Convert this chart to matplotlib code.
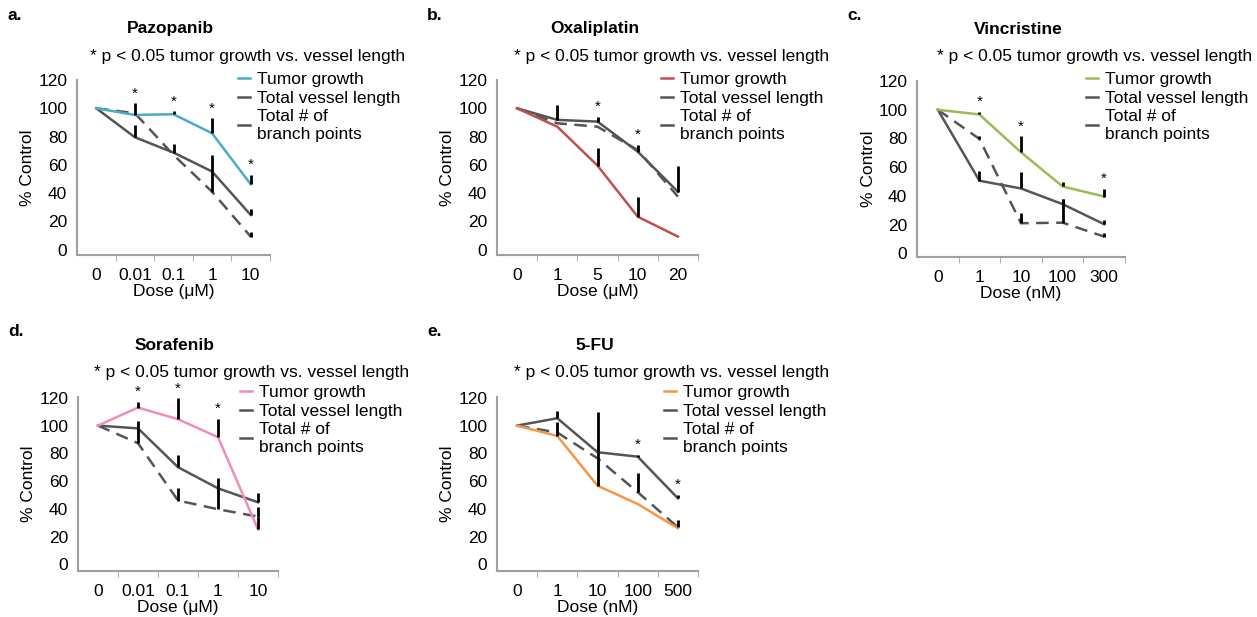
import matplotlib
matplotlib.use("Agg")
import matplotlib.pyplot as plt
from matplotlib.lines import Line2D

plt.rcParams['font.family'] = ['Liberation Sans', 'DejaVu Sans']

W, H = 1257, 617

# doses (category labels)
dose_a = ["0", "0.01", "0.1", "1", "10"]
dose_b = ["0", "1", "5", "10", "20"]
dose_c = ["0", "1", "10", "100", "300"]
dose_d = ["0", "0.01", "0.1", "1", "10"]
dose_e = ["0", "1", "10", "100", "500"]

# Pazopanib
tumor_a = [100, 95.3, 95.8, 82.3, 46.3]
tumor_a_err = [0, 8.2, 2.2, 10.7, 6.7]
vessel_a = [100, 79.5, 68.7, 55.3, 24.6]
vessel_a_err = [0, 8.5, 6.1, 11.7, 4]
branch_a = [100, 96.5, 67, 41, 9.3]
branch_a_err = [0, 0, 0, 14, 3.5]
star_a = [1, 2, 3, 4]

# Oxaliplatin
tumor_b = [100, 87, 59.5, 23.4, 9.3]
tumor_b_err = [0, 0, 12.5, 13.6, 0]
vessel_b = [100, 91.8, 90.6, 69.4, 41]
vessel_b_err = [0, 10.2, 3.4, 4.6, 18.5]
branch_b = [100, 89.4, 87, 70.5, 37.6]
branch_b_err = [0, 0, 0, 0, 0]
star_b = [2, 3]

# Vincristine
tumor_c = [100, 96.7, 70.4, 46.6, 39.6]
tumor_c_err = [0, 1.7, 11.2, 3.3, 5.2]
vessel_c = [100, 50.6, 45.2, 34.3, 20.3]
vessel_c_err = [0, 7, 11.2, 3.5, 3]
branch_c = [100, 79.7, 21, 21.4, 11.7]
branch_c_err = [0, 2.3, 7.4, 16.4, 2.8]
star_c = [1, 2, 4]

# Sorafenib
tumor_d = [100, 113, 104.6, 91.6, 25.2]
tumor_d_err = [0, 4, 15, 13.2, 9]
vessel_d = [100, 98, 70, 54.8, 44.7]
vessel_d_err = [0, 5.6, 8.6, 7.7, 7]
branch_d = [100, 87.3, 46, 39.7, 34.4]
branch_d_err = [0, 10.7, 8.8, 15, 7.2]
star_d = [1, 2, 3]

# 5-FU
tumor_e = [100, 92.5, 56.7, 43.5, 26]
tumor_e_err = [0, 10, 24, 0, 0]
vessel_e = [100, 105.3, 80.8, 77.6, 47.6]
vessel_e_err = [0, 5.3, 29, 1.5, 2.4]
branch_e = [100, 95, 76.4, 52, 26.7]
branch_e_err = [0, 0, 0, 13.6, 5.3]
star_e = [3, 4]

gray = "#555555"
panels = [
    # letter, title, unit, doses, series, stars, tumor colour, axes px (left, top, right, bottom), ylim, legend px
    ("a.", "Pazopanib", "Dose (μM)", dose_a,
     (tumor_a, tumor_a_err, vessel_a, vessel_a_err, branch_a, branch_a_err), star_a,
     "#4bacc6", (77, 80, 270, 255), (-3.7, 120), (238, 72)),
    ("b.", "Oxaliplatin", "Dose (μM)", dose_b,
     (tumor_b, tumor_b_err, vessel_b, vessel_b_err, branch_b, branch_b_err), star_b,
     "#c0504d", (497, 80, 698, 255), (-3.7, 120), (661, 72)),
    ("c.", "Vincristine", "Dose (nM)", dose_c,
     (tumor_c, tumor_c_err, vessel_c, vessel_c_err, branch_c, branch_c_err), star_c,
     "#9bbb59", (917, 81, 1125, 257), (-2.5, 120), (1086, 72)),
    ("d.", "Sorafenib", "Dose (μM)", dose_d,
     (tumor_d, tumor_d_err, vessel_d, vessel_d_err, branch_d, branch_d_err), star_d,
     "#f08cc0", (78, 397, 278, 571), (-4.8, 120.6), (240, 385)),
    ("e.", "5-FU", "Dose (nM)", dose_e,
     (tumor_e, tumor_e_err, vessel_e, vessel_e_err, branch_e, branch_e_err), star_e,
     "#f79646", (497, 397, 698, 571), (-4.8, 120.6), (664, 385)),
]

fig = plt.figure(figsize=(W / 100, H / 100), dpi=100)

for letter, title, unit, doses, series, stars, tcol, box, ylim, legpos in panels:
    l, t, r, b = box
    ax = fig.add_axes([l / W, 1 - b / H, (r - l) / W, (b - t) / H])
    tumor, tumor_err, vessel, vessel_err, branch, branch_err = series
    x = list(range(len(doses)))

    ax.plot(x, branch, color=gray, lw=1.8, dashes=(5, 3), zorder=2)
    ax.plot(x, vessel, color=gray, lw=1.8, zorder=3)
    ax.plot(x, tumor, color=tcol, lw=1.8, zorder=4)

    # one-sided error bars
    tops = [0] * len(x)
    for vals, errs in ((tumor, tumor_err), (vessel, vessel_err), (branch, branch_err)):
        for i in x:
            if errs[i] > 0:
                ax.vlines(i, vals[i], vals[i] + errs[i], color="black", lw=2, zorder=5)
            tops[i] = max(tops[i], vals[i] + errs[i])
    for i in stars:
        ax.text(i, tops[i] + 2, "*", ha="center", va="bottom", fontsize=11, clip_on=False)

    ax.set_xlim(-0.5, len(x) - 0.5)
    ax.set_ylim(*ylim)
    ax.set_yticks([0, 20, 40, 60, 80, 100, 120])
    ax.set_xticks(x)
    ax.set_xticklabels(doses)
    ax.set_xticks([i - 0.5 for i in range(1, len(x) + 1)], minor=True)
    ax.tick_params(axis="x", which="major", length=0, pad=9, labelsize=12.5)
    ax.tick_params(axis="x", which="minor", length=4, color="#a0a0a0", direction="out")
    ax.tick_params(axis="y", length=0, pad=7, labelsize=12.5)
    for side in ("top", "right"):
        ax.spines[side].set_visible(False)
    for side in ("left", "bottom"):
        ax.spines[side].set_color("#a0a0a0")
        ax.spines[side].set_linewidth(1.5)
    ax.set_xlabel(unit, fontsize=12.5, labelpad=1)
    ax.set_ylabel("% Control", fontsize=12.5, labelpad=2)

    handles = [Line2D([], [], color=tcol, lw=1.8),
               Line2D([], [], color=gray, lw=1.8),
               Line2D([], [], color=gray, lw=1.8)]
    ax.legend(handles, ["Tumor growth", "Total vessel length", "Total # of\nbranch points"],
              loc="upper left", bbox_to_anchor=(legpos[0] / W, 1 - legpos[1] / H),
              bbox_transform=fig.transFigure, frameon=False, fontsize=12.5,
              handlelength=0.7, handletextpad=0.4, labelspacing=0.2,
              borderpad=0, borderaxespad=0)

    cx = (l + r) / 2
    fig.text((l - 70) / W, 1 - (t - 65) / H, letter, fontsize=12.5, fontweight="bold",
             ha="left", va="center")
    fig.text((cx - 3) / W, 1 - (t - 52) / H, title, fontsize=12.5, fontweight="bold",
             ha="center", va="center")
    fig.text((cx + 74) / W, 1 - (t - 24) / H, "* p < 0.05 tumor growth vs. vessel length",
             fontsize=12.5, ha="center", va="center")

fig.savefig("out.png", dpi=100)
